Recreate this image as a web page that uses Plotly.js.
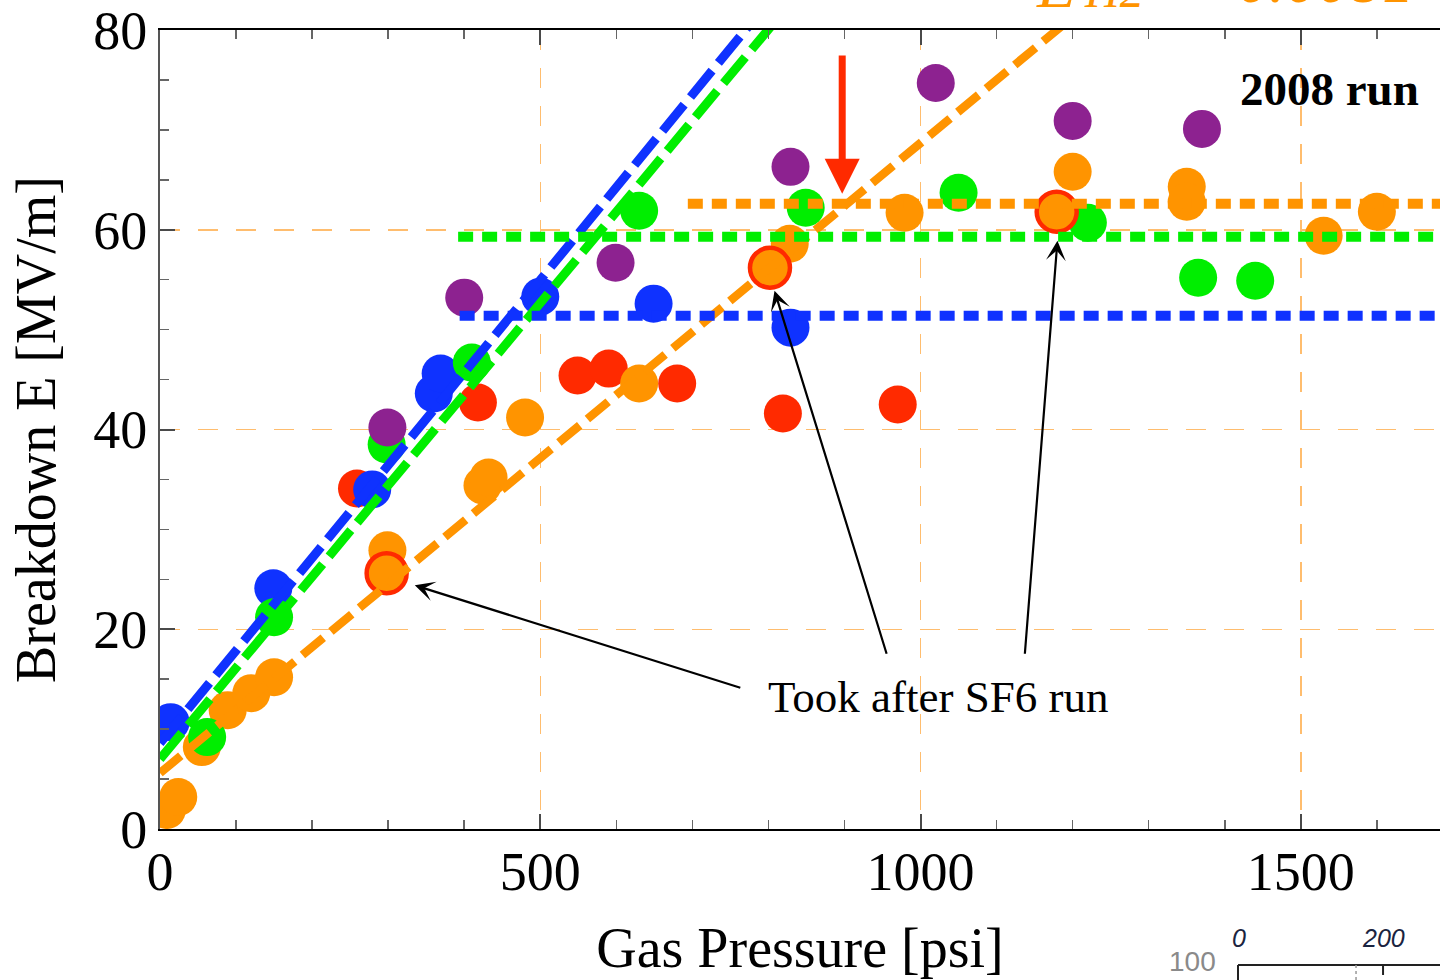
<!DOCTYPE html>
<html>
<head>
<meta charset="utf-8">
<script src="https://cdn.plot.ly/plotly-3.0.1.min.js"></script>
<style>html,body{margin:0;padding:0;background:#fff;}#chart{width:1440px;height:980px;}</style>
</head>
<body>
<div id="chart"></div>
<script>
// ---- data ----
const redX = [259, 418, 549, 590, 680, 819, 970];
const redY = [34.1, 42.7, 45.4, 46.1, 44.6, 41.6, 42.5];

const orangeX = [9, 24, 55, 89, 120, 150, 299, 424, 432, 480, 630, 828, 979, 1200, 1350, 1350, 1530, 1600];
const orangeY = [1.9, 3.2, 8.2, 11.9, 13.6, 15.2, 27.9, 34.4, 35.2, 41.2, 44.6, 58.6, 61.7, 65.8, 64.3, 62.8, 59.4, 61.8];

const blueX = [14, 149, 279, 360, 369, 500, 649, 829];
const blueY = [10.7, 24.1, 34.0, 43.6, 45.6, 53.3, 52.6, 50.2];

const greenX = [62, 150, 298, 410, 630, 849, 1050, 1220, 1365, 1440];
const greenY = [9.2, 21.2, 38.5, 46.7, 61.9, 62.2, 63.7, 60.7, 55.2, 54.9];

const purpleX = [299, 400, 599, 829, 1020, 1200, 1370];
const purpleY = [40.2, 53.2, 56.7, 66.3, 74.7, 70.9, 70.1];

const sf6X = [298, 802, 1179];
const sf6Y = [25.6, 56.2, 61.8];

// linear fit lines (end points)
const blueFitX = [0, 800];    const blueFitY = [8.6, 82.8];
const greenFitX = [0, 830];   const greenFitY = [7.0, 82.8];
const orangeFitX = [0, 1230]; const orangeFitY = [5.6, 83.2];

// saturation levels
const orangeSatX = [694, 1750]; const orangeSatY = [62.6, 62.6];
const greenSatX = [392, 1750];  const greenSatY = [59.3, 59.3];
const blueSatX = [394, 1750];   const blueSatY = [51.4, 51.4];

const xTicks = [0, 500, 1000, 1500];
const yTicks = [0, 20, 40, 60, 80];

// ---- styles ----
const C = {blue:'#0f32ff', green:'#00ee00', red:'#ff2a00', orange:'#ff9400', purple:'#8d2290', grid:'#ffbd6e'};
const MS = 38;
const serif = 'Liberation Serif, Times New Roman, serif';
const sans = 'Liberation Sans, Arial, sans-serif';

function pts(x, y, color, name) {
  return {x, y, type:'scatter', mode:'markers', name,
    marker:{size:MS, color, line:{width:0}}, hoverinfo:'skip'};
}
function ln(x, y, color, width, dash, name) {
  return {x, y, type:'scatter', mode:'lines', name,
    line:{color, width, dash}, hoverinfo:'skip'};
}

const traces = [
  pts(redX, redY, C.red, 'red'),
  pts(orangeX, orangeY, C.orange, 'orange'),
  pts(blueX, blueY, C.blue, 'blue'),
  pts(greenX, greenY, C.green, 'green'),
  pts(purpleX, purpleY, C.purple, 'purple'),
  {x:sf6X, y:sf6Y, type:'scatter', mode:'markers', name:'after SF6',
    marker:{size:40, color:C.orange, line:{width:4.5, color:C.red}}, hoverinfo:'skip'},
  ln(blueFitX, blueFitY, C.blue, 9, '34px,10px', 'blue fit'),
  ln(greenFitX, greenFitY, C.green, 9, '34px,10px', 'green fit'),
  ln(orangeFitX, orangeFitY, C.orange, 8.5, '27px,10px', 'orange fit'),
  ln(orangeSatX, orangeSatY, C.orange, 10, '15px,9px', 'orange sat'),
  ln(greenSatX, greenSatY, C.green, 10, '15px,9px', 'green sat'),
  ln(blueSatX, blueSatY, C.blue, 10, '15px,9px', 'blue sat')
];

const arrowBlack = {showarrow:true, text:'', axref:'x', ayref:'y', xref:'x', yref:'y',
  arrowcolor:'#000', arrowwidth:2.2, arrowhead:3, arrowsize:1.5};

function paperText(px, py, text, font, xanchor, yanchor) {
  return {x:(px-160)/1280, y:(829-py)/799, xref:'paper', yref:'paper', text, showarrow:false,
    xanchor:xanchor||'center', yanchor:yanchor||'middle', font};
}

const layout = {
  width:1440, height:980,
  margin:{l:160, r:0, t:30, b:151},
  paper_bgcolor:'#fff', plot_bgcolor:'#fff',
  showlegend:false,
  font:{family:serif, color:'#000'},
  xaxis:{
    range:[0, 1683], tickvals:xTicks, ticktext:xTicks.map(String),
    ticks:'inside', ticklen:15, tickwidth:2, tickcolor:'#4a4a4a',
    minor:{dtick:100, tick0:0, ticks:'inside', ticklen:9, tickwidth:1.5, tickcolor:'#666', showgrid:false},
    showline:true, linecolor:'#000', linewidth:2, mirror:'allticks',
    showgrid:true, gridcolor:C.grid, gridwidth:1.5, griddash:'20px,18px',
    zeroline:false, ticklabelstandoff:-6,
    tickfont:{family:serif, size:54, color:'#000'},
    title:{text:'Gas Pressure [psi]', font:{family:serif, size:56, color:'#000'}, standoff:27}
  },
  yaxis:{
    range:[0, 80], tickvals:yTicks, ticktext:yTicks.map(String),
    ticks:'inside', ticklen:15, tickwidth:2, tickcolor:'#4a4a4a',
    minor:{dtick:5, tick0:0, ticks:'inside', ticklen:9, tickwidth:1.5, tickcolor:'#666', showgrid:false},
    showline:true, linecolor:'#555', linewidth:2,
    showgrid:true, gridcolor:C.grid, gridwidth:1.5, griddash:'20px,18px',
    zeroline:false,
    tickfont:{family:serif, size:54, color:'#000'},
    title:{text:'Breakdown E [MV/m]', font:{family:serif, size:56, color:'#000'}, standoff:20}
  },
  annotations:[
    Object.assign({}, arrowBlack, {x:335, y:24.4, ax:765, ay:14.1}),
    Object.assign({}, arrowBlack, {x:808, y:53.9, ax:956, ay:17.4}),
    Object.assign({}, arrowBlack, {x:1180, y:58.9, ax:1137, ay:17.4}),
    {x:1024, y:13.2, xref:'x', yref:'y', text:'Took after SF6 run', showarrow:false,
      font:{family:serif, size:45, color:'#000'}},
    {x:1538, y:74.1, xref:'x', yref:'y', text:'<b>2008 run</b>', showarrow:false,
      font:{family:serif, size:47, color:'#000'}},
    {x:897, y:63.6, ax:897, ay:77.6, xref:'x', yref:'y', axref:'x', ayref:'y', text:'',
      showarrow:true, arrowcolor:C.red, arrowwidth:7, arrowhead:2, arrowsize:1},
    // fit formula, cut off by the top edge as in the reference
    paperText(1034, 23, '<i>E</i>', {family:serif, size:64, color:C.orange}, 'left', 'bottom'),
    paperText(1082, 19, '<i>H2</i>', {family:serif, size:48, color:C.orange}, 'left', 'bottom'),
    paperText(1181, 18, '= 0.0081 × <i>P</i>', {family:serif, size:64, color:C.orange}, 'left', 'bottom'),
    // fragment of a neighbouring figure at the bottom right
    paperText(1192, 961, '100', {family:sans, size:28, color:'#8a8a8a'}),
    paperText(1239, 938, '<i>0</i>', {family:sans, size:25, color:'#1a2440'}),
    paperText(1383, 938, '<i>200</i>', {family:sans, size:25, color:'#1a2440'})
  ],
  shapes:[
    {type:'line', xref:'paper', yref:'paper', x0:0.8422, x1:1.0, y0:-0.1702, y1:-0.1702, line:{color:'#222', width:2}},
    {type:'line', xref:'paper', yref:'paper', x0:0.8422, x1:0.8422, y0:-0.1702, y1:-0.19, line:{color:'#222', width:2}},
    {type:'line', xref:'paper', yref:'paper', x0:0.9555, x1:0.9555, y0:-0.1702, y1:-0.1827, line:{color:'#222', width:2}},
    {type:'line', xref:'paper', yref:'paper', x0:0.9344, x1:0.9344, y0:-0.1702, y1:-0.19, line:{color:'#999', width:1.5, dash:'dot'}}
  ],
  hovermode:false
};

Plotly.newPlot('chart', traces, layout, {displayModeBar:false, staticPlot:true});
</script>
</body>
</html>
